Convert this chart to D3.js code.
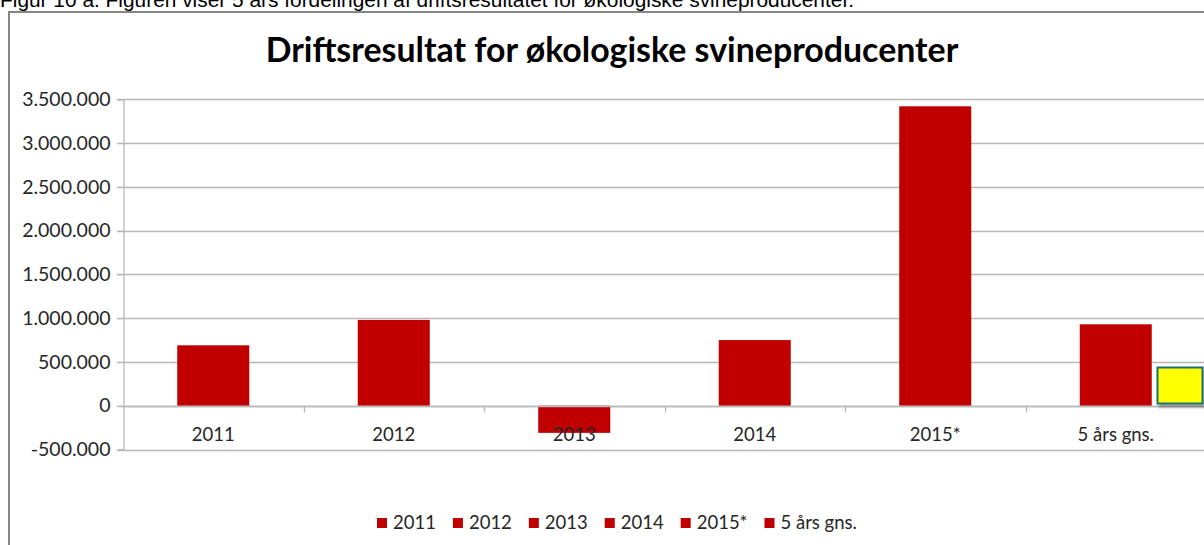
<!DOCTYPE html>
<html>
<head>
<meta charset="utf-8">
<script src="https://cdn.jsdelivr.net/npm/d3@7"></script>
<style>
  html, body { margin: 0; padding: 0; background: #fff; overflow: hidden; }
  svg { display: block; }
</style>
</head>
<body>
<svg id="chart" width="1204" height="545"></svg>
<script>
// data
var categories = ["2011", "2012", "2013", "2014", "2015*", "5 års gns."];
var results = [690000, 980000, -310000, 750000, 3420000, 930000];
var yTicks = [-500000, 0, 500000, 1000000, 1500000, 2000000, 2500000, 3000000, 3500000];

var caption = "Figur 10 a. Figuren viser 5 års fordelingen af driftsresultatet for økologiske svineproducenter.";
var title = "Driftsresultat for økologiske svineproducenter";

var svg = d3.select("#chart");
var barColor = "#c00000";
var labelFont = "Lato, 'Open Sans', sans-serif";

// fit a text element to a given width by changing its font size
function fitWidth(sel, target) {
  var w = sel.node().getComputedTextLength();
  var fs = parseFloat(sel.attr("font-size"));
  sel.attr("font-size", fs * target / w);
}

// caption above the chart frame (cut at top in the reference)
var cap = svg.append("text")
  .attr("x", 0).attr("y", 7)
  .attr("font-family", "'Liberation Sans', Arial, sans-serif")
  .attr("font-size", 17)
  .attr("fill", "#000")
  .text(caption);
fitWidth(cap, 855);

// chart frame
svg.append("rect")
  .attr("x", 9).attr("y", 12)
  .attr("width", 1300).attr("height", 600)
  .attr("fill", "#fff")
  .attr("stroke", "#868686")
  .attr("stroke-width", 2);

// title
var t = svg.append("text")
  .attr("x", 612).attr("y", 62)
  .attr("text-anchor", "middle")
  .attr("font-family", labelFont)
  .attr("font-weight", "bold")
  .attr("font-size", 30)
  .attr("fill", "#000")
  .text(title);
fitWidth(t, 693);

// scales
var x = d3.scaleBand().domain(categories).range([123, 1206]).paddingInner(0).paddingOuter(0);
var y = d3.scaleLinear().domain([-500000, 3500000]).range([449.5, 99.3]);
var fmt = function (d) { return d3.format(",")(d).replace(/,/g, ".").replace("\u2212", "-"); };

// gridlines
svg.append("g")
  .selectAll("line")
  .data(yTicks)
  .join("line")
  .attr("x1", 117).attr("x2", 1206)
  .attr("y1", (d) => Math.round(y(d)) + 0.5)
  .attr("y2", (d) => Math.round(y(d)) + 0.5)
  .attr("stroke", "#b8b8b8")
  .attr("stroke-width", 1.3);

// y axis
var yAxis = svg.append("g")
  .attr("transform", "translate(123.5,0)")
  .call(d3.axisLeft(y).tickValues(yTicks).tickFormat(fmt).tickSize(6).tickPadding(7));
yAxis.select(".domain").attr("stroke", "#b8b8b8").attr("stroke-width", 1.3);
yAxis.selectAll(".tick line").attr("stroke", "#b8b8b8");
yAxis.selectAll(".tick text")
  .attr("font-family", labelFont)
  .attr("font-size", 19.5)
  .attr("fill", "#262626");

// bars
svg.append("g")
  .selectAll("rect")
  .data(results)
  .join("rect")
  .attr("x", (d, i) => x(categories[i]) + (x.bandwidth() - 72) / 2)
  .attr("width", 72)
  .attr("y", (d) => y(Math.max(0, d)))
  .attr("height", (d) => Math.abs(y(d) - y(0)))
  .attr("fill", barColor);

// category axis at zero
var xAxis = svg.append("g")
  .attr("transform", "translate(0," + (Math.round(y(0)) + 0.5) + ")");
xAxis.append("line")
  .attr("x1", 123).attr("x2", 1206)
  .attr("stroke", "#b8b8b8").attr("stroke-width", 1.3);
xAxis.selectAll(".ctick")
  .data(categories.slice(1))
  .join("line")
  .attr("class", "ctick")
  .attr("x1", (d) => Math.round(x(d)) + 0.5)
  .attr("x2", (d) => Math.round(x(d)) + 0.5)
  .attr("y1", 0).attr("y2", 6)
  .attr("stroke", "#b8b8b8").attr("stroke-width", 1.3);
xAxis.selectAll(".clabel")
  .data(categories)
  .join("text")
  .attr("class", "clabel")
  .attr("x", (d) => x(d) + x.bandwidth() / 2)
  .attr("y", 34)
  .attr("text-anchor", "middle")
  .attr("font-family", labelFont)
  .attr("font-size", 18.5)
  .attr("fill", "#262626")
  .text((d) => d);

// legend
var legend = svg.append("g").attr("transform", "translate(377,523)");
var lx = 0;
categories.forEach(function (c) {
  var item = legend.append("g").attr("transform", "translate(" + lx + ",0)");
  item.append("rect")
    .attr("x", 0).attr("y", -5)
    .attr("width", 10).attr("height", 10)
    .attr("fill", barColor);
  var tx = item.append("text")
    .attr("x", 16).attr("y", 6)
    .attr("font-family", labelFont)
    .attr("font-size", 18.5)
    .attr("fill", "#262626")
    .text(c);
  lx += 16 + tx.node().getComputedTextLength() + 17;
});

// yellow note box at the right edge
var defs = svg.append("defs");
var f = defs.append("filter").attr("id", "shadow").attr("x", "-20%").attr("y", "-20%").attr("width", "150%").attr("height", "150%");
f.append("feDropShadow").attr("dx", 2).attr("dy", 3).attr("stdDeviation", 1.5).attr("flood-color", "#000").attr("flood-opacity", 0.35);
svg.append("rect")
  .attr("x", 1157.5).attr("y", 367.5)
  .attr("width", 45).attr("height", 36)
  .attr("fill", "#ffff00")
  .attr("stroke", "#1f6e74")
  .attr("stroke-width", 2)
  .attr("filter", "url(#shadow)");
</script>
</body>
</html>
